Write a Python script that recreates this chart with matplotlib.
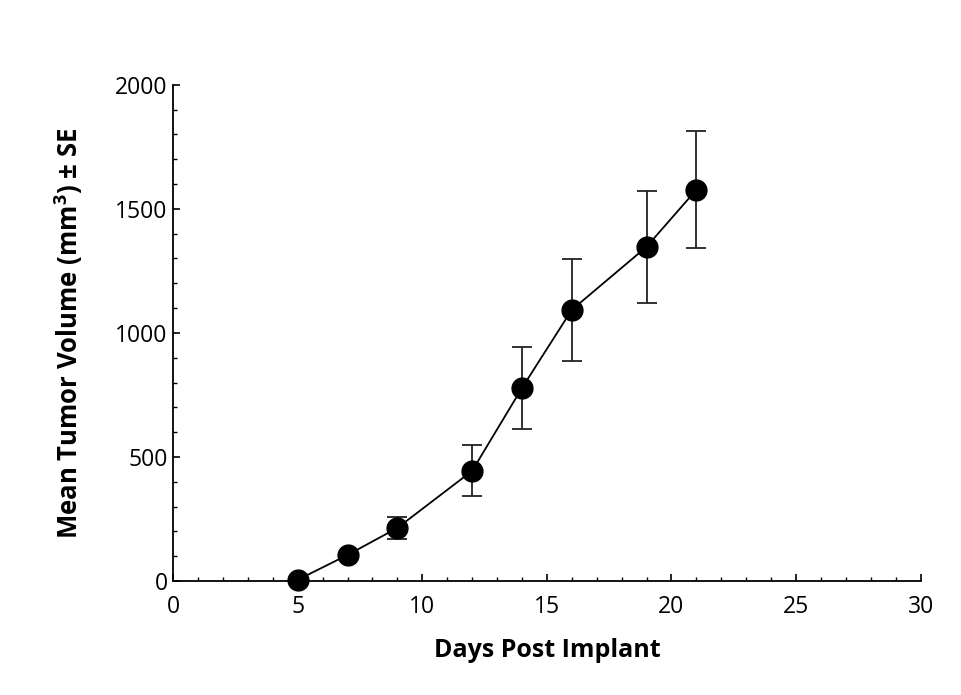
import numpy as np
import matplotlib
matplotlib.use('Agg')
import matplotlib.pyplot as plt
import matplotlib.ticker as mticker

plt.rcParams['font.family'] = ['Open Sans', 'DejaVu Sans']
plt.rcParams['mathtext.fontset'] = 'custom'
plt.rcParams['mathtext.rm'] = 'Open Sans'
plt.rcParams['mathtext.bf'] = 'Open Sans:bold'

days = [5, 7, 9, 12, 14, 16, 19, 21]
mean_volume = [5, 105, 214, 444, 778, 1093, 1347, 1577]
se = [0, 0, 43, 103, 165, 205, 226, 236]

fig = plt.figure(figsize=(9.62, 6.95), dpi=100)
ax = fig.add_axes([0.18, 0.164, 0.777, 0.714])

ax.errorbar(days, mean_volume, yerr=se, color='black', ecolor='#222222',
            elinewidth=1.3, capsize=7, capthick=1.3, linewidth=1.3,
            marker='o', markersize=15, markerfacecolor='black',
            markeredgecolor='black', zorder=3, clip_on=False)

ax.set_xlim(0, 30)
ax.set_ylim(0, 2000)
ax.xaxis.set_major_locator(mticker.MultipleLocator(5))
ax.xaxis.set_minor_locator(mticker.MultipleLocator(1))
ax.yaxis.set_major_locator(mticker.MultipleLocator(500))
ax.yaxis.set_minor_locator(mticker.MultipleLocator(100))

ax.spines['top'].set_visible(False)
ax.spines['right'].set_visible(False)
for s in ['left', 'bottom']:
    ax.spines[s].set_linewidth(1.3)

ax.tick_params(which='major', direction='in', length=5, width=1.2,
               labelsize=16.5)
ax.tick_params(axis='x', which='major', pad=10)
ax.tick_params(axis='y', which='major', pad=4)
ax.tick_params(which='minor', direction='in', length=3, width=1.0)

ax.set_xlabel('Days Post Implant', fontsize=18, fontweight='bold', labelpad=14)
ax.set_ylabel('Mean Tumor Volume (mm$^{\\mathbf{3}}$) ± SE', fontsize=18.5,
              fontweight='bold', labelpad=22)

fig.savefig('out.png', dpi=100)
